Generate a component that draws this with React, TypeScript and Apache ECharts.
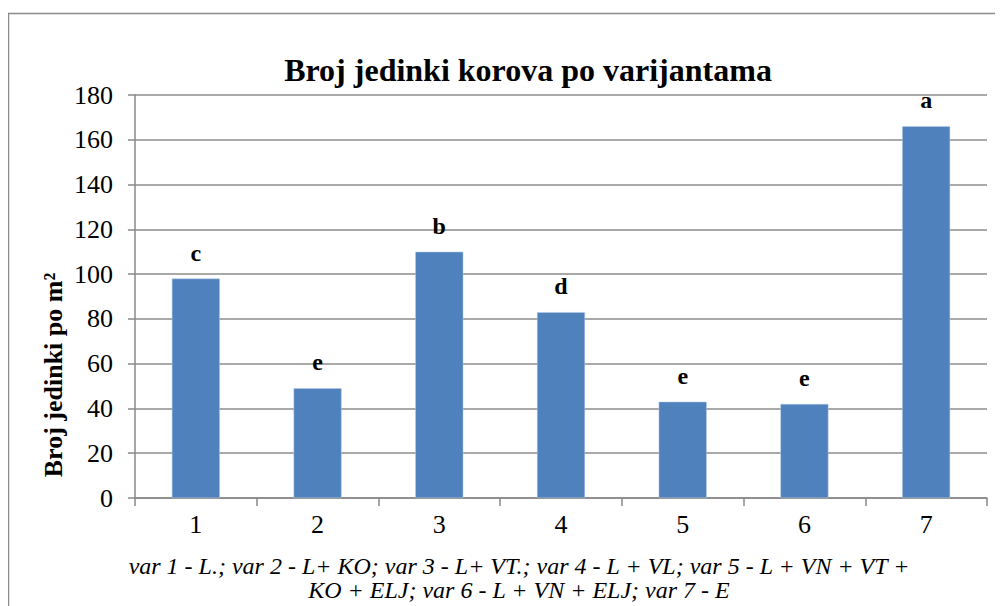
import React, { useEffect, useRef } from "react";
import * as echarts from "echarts";

const categories = ["1", "2", "3", "4", "5", "6", "7"];
const values = [98, 49, 110, 83, 43, 42, 166];
const letters = ["c", "e", "b", "d", "e", "e", "a"];
const yTicks = { min: 0, max: 180, interval: 20 };
const titleText = "Broj jedinki korova po varijantama";
const yName = "Broj jedinki po m²";
const xName = "var 1 - L.; var 2 - L+ KO; var 3 - L+ VT.; var 4 - L + VL; var 5 - L + VN + VT +\nKO + ELJ; var 6 - L + VN + ELJ; var 7 - E";

const FONT = "'Liberation Serif', 'Times New Roman', serif";

export default function App() {
  const ref = useRef<HTMLDivElement>(null);
  useEffect(() => {
    if (!ref.current) return;
    const chart = echarts.init(ref.current, null, { renderer: "svg" });
    chart.setOption({
      animation: false,
      backgroundColor: "#ffffff",
      title: {
        text: titleText,
        left: 515,
        top: 41,
        textAlign: "center",
        textStyle: { fontFamily: FONT, fontWeight: "bold", fontSize: 32, color: "#000" },
      },
      graphic: [
        {
          type: "rect",
          shape: { x: 0.5, y: 5.5, width: 1100, height: 700 },
          style: { fill: "none", stroke: "#8c8c8c", lineWidth: 1.5 },
          silent: true,
        },
        {
          type: "text",
          x: 511,
          y: 546,
          style: {
            text: xName,
            fontFamily: FONT,
            fontStyle: "italic",
            fontSize: 24,
            lineHeight: 24,
            fill: "#000",
            align: "center",
            verticalAlign: "top",
          },
        },
        {
          type: "text",
          x: 45,
          y: 367,
          rotation: Math.PI / 2,
          style: {
            text: yName,
            fontFamily: FONT,
            fontWeight: "bold",
            fontSize: 26,
            fill: "#000",
            align: "center",
            verticalAlign: "middle",
          },
        },
      ],
      grid: { left: 127, right: 16, top: 87, bottom: 108 },
      xAxis: {
        type: "category",
        data: categories,
        boundaryGap: true,
        axisLine: { lineStyle: { color: "#888", width: 1.5 } },
        axisTick: { show: true, length: 8, lineStyle: { color: "#888", width: 1.5 } },
        axisLabel: { fontFamily: FONT, fontSize: 26, color: "#000", margin: 13 },
      },
      yAxis: {
        type: "value",
        min: yTicks.min,
        max: yTicks.max,
        interval: yTicks.interval,
        axisLine: { show: true, lineStyle: { color: "#888", width: 1.5 } },
        axisTick: { show: true, length: 7, lineStyle: { color: "#888", width: 1.5 } },
        axisLabel: { fontFamily: FONT, fontSize: 26, color: "#000", margin: 22 },
        splitLine: { show: true, lineStyle: { color: "#8c8c8c", width: 1.5 } },
      },
      series: [
        {
          type: "bar",
          data: values.map((v, i) => ({ value: v, label: { formatter: letters[i] } })),
          barWidth: 48,
          itemStyle: { color: "#4F81BD", borderColor: "#b9cde5", borderWidth: 0.5 },
          label: {
            show: true,
            position: "top",
            distance: 14,
            fontFamily: FONT,
            fontWeight: "bold",
            fontSize: 24,
            color: "#000",
          },
        },
      ],
    });
    return () => chart.dispose();
  }, []);
  return <div ref={ref} style={{ width: 995, height: 598 }} />;
}
